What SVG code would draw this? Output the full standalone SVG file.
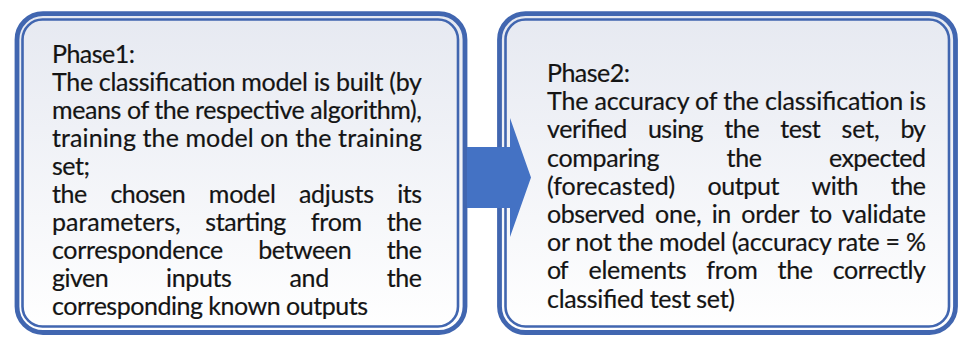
<svg xmlns="http://www.w3.org/2000/svg" width="959" height="340" viewBox="0 0 959 340">
  <defs>
    <linearGradient id="boxFill" x1="0" y1="0" x2="0" y2="1">
      <stop offset="0" stop-color="#E6E9F1"/>
      <stop offset="1" stop-color="#FFFFFF"/>
    </linearGradient>
  </defs>
  <style>
    .frame-outer { fill: url(#boxFill); stroke: #4166B0; stroke-width: 4.8; }
    .frame-inner { fill: none; stroke: #4166B0; stroke-width: 2.6; }
    .txt text { font-family: Lato, "Liberation Sans", sans-serif; font-size: 25px; fill: #141414; stroke: #141414; stroke-width: 0.2; }
    .arrow { fill: #4472C4; }
  </style>
  <rect width="959" height="340" fill="#FFFFFF"/>

  <!-- Phase 1 box: justified paragraph, one text element per word on spread lines -->
  <g id="phase1">
    <rect class="frame-outer" x="17" y="13.7" width="448" height="318.8" rx="26"/>
    <rect class="frame-inner" x="22.5" y="19.5" width="435.5" height="307" rx="20"/>
    <g class="txt">
      <text x="52" y="63" textLength="83" lengthAdjust="spacing">Phase1:</text>
      <text x="52" y="91" textLength="370" lengthAdjust="spacing">The classification model is built (by</text>
      <text x="52" y="119" textLength="370" lengthAdjust="spacing">means of the respective algorithm),</text>
      <text x="52" y="147" textLength="370" lengthAdjust="spacing">training the model on the training</text>
      <text x="52" y="175" textLength="38" lengthAdjust="spacing">set;</text>

      <text x="52" y="203" textLength="35.3" lengthAdjust="spacing">the</text>
      <text x="110.5" y="203" textLength="75.1" lengthAdjust="spacing">chosen</text>
      <text x="208.8" y="203" textLength="67" lengthAdjust="spacing">model</text>
      <text x="299" y="203" textLength="75" lengthAdjust="spacing">adjusts</text>
      <text x="397.2" y="203" textLength="24.8" lengthAdjust="spacing">its</text>

      <text x="52" y="231" textLength="128.8" lengthAdjust="spacing">parameters,</text>
      <text x="205.3" y="231" textLength="81" lengthAdjust="spacing">starting</text>
      <text x="310.7" y="231" textLength="51.5" lengthAdjust="spacing">from</text>
      <text x="386.7" y="231" textLength="35.3" lengthAdjust="spacing">the</text>

      <text x="52" y="259" textLength="171.2" lengthAdjust="spacing">correspondence</text>
      <text x="258.2" y="259" textLength="93.4" lengthAdjust="spacing">between</text>
      <text x="386.7" y="259" textLength="35.3" lengthAdjust="spacing">the</text>

      <text x="52" y="287" textLength="56.6" lengthAdjust="spacing">given</text>
      <text x="166.1" y="287" textLength="65.8" lengthAdjust="spacing">inputs</text>
      <text x="289.4" y="287" textLength="39.8" lengthAdjust="spacing">and</text>
      <text x="386.7" y="287" textLength="35.3" lengthAdjust="spacing">the</text>

      <text x="52" y="315" textLength="316" lengthAdjust="spacing">corresponding known outputs</text>
    </g>
  </g>

  <!-- Phase 2 box -->
  <g id="phase2">
    <rect class="frame-outer" x="499.5" y="13.7" width="456" height="318.8" rx="26"/>
    <rect class="frame-inner" x="505.5" y="19.5" width="443.5" height="307" rx="20"/>
    <g class="txt">
      <text x="547" y="82" textLength="83" lengthAdjust="spacing">Phase2:</text>
      <text x="547" y="110.2" textLength="379" lengthAdjust="spacing">The accuracy of the classification is</text>

      <text x="547" y="138.4" textLength="80.2" lengthAdjust="spacing">verified</text>
      <text x="647.9" y="138.4" textLength="55.7" lengthAdjust="spacing">using</text>
      <text x="724.3" y="138.4" textLength="35.3" lengthAdjust="spacing">the</text>
      <text x="780.3" y="138.4" textLength="40.5" lengthAdjust="spacing">test</text>
      <text x="841.5" y="138.4" textLength="38.3" lengthAdjust="spacing">set,</text>
      <text x="900.6" y="138.4" textLength="25.4" lengthAdjust="spacing">by</text>

      <text x="547" y="166.6" textLength="112.5" lengthAdjust="spacing">comparing</text>
      <text x="726.6" y="166.6" textLength="35.3" lengthAdjust="spacing">the</text>
      <text x="828.9" y="166.6" textLength="97.1" lengthAdjust="spacing">expected</text>

      <text x="547" y="194.8" textLength="128.3" lengthAdjust="spacing">(forecasted)</text>
      <text x="707.4" y="194.8" textLength="72.1" lengthAdjust="spacing">output</text>
      <text x="811.6" y="194.8" textLength="46.9" lengthAdjust="spacing">with</text>
      <text x="890.7" y="194.8" textLength="35.3" lengthAdjust="spacing">the</text>

      <text x="547" y="223" textLength="97.9" lengthAdjust="spacing">observed</text>
      <text x="654.9" y="223" textLength="46.8" lengthAdjust="spacing">one,</text>
      <text x="711.7" y="223" textLength="19.6" lengthAdjust="spacing">in</text>
      <text x="741.3" y="223" textLength="58.4" lengthAdjust="spacing">order</text>
      <text x="809.7" y="223" textLength="22.4" lengthAdjust="spacing">to</text>
      <text x="842.1" y="223" textLength="83.9" lengthAdjust="spacing">validate</text>

      <text x="547" y="251.2" textLength="379" lengthAdjust="spacing">or not the model (accuracy rate = %</text>

      <text x="547" y="279.4" textLength="21.6" lengthAdjust="spacing">of</text>
      <text x="588.4" y="279.4" textLength="98.1" lengthAdjust="spacing">elements</text>
      <text x="706.3" y="279.4" textLength="51.5" lengthAdjust="spacing">from</text>
      <text x="777.6" y="279.4" textLength="35.3" lengthAdjust="spacing">the</text>
      <text x="832.8" y="279.4" textLength="93.2" lengthAdjust="spacing">correctly</text>

      <text x="547" y="307.6" textLength="188" lengthAdjust="spacing">classified test set)</text>
    </g>
  </g>

  <!-- Connector: block arrow from phase 1 to phase 2 -->
  <g id="connectors">
    <polygon class="arrow" points="467,147 510,147 510,118 531,177.5 510,237 510,208 467,208"/>
  </g>
</svg>
